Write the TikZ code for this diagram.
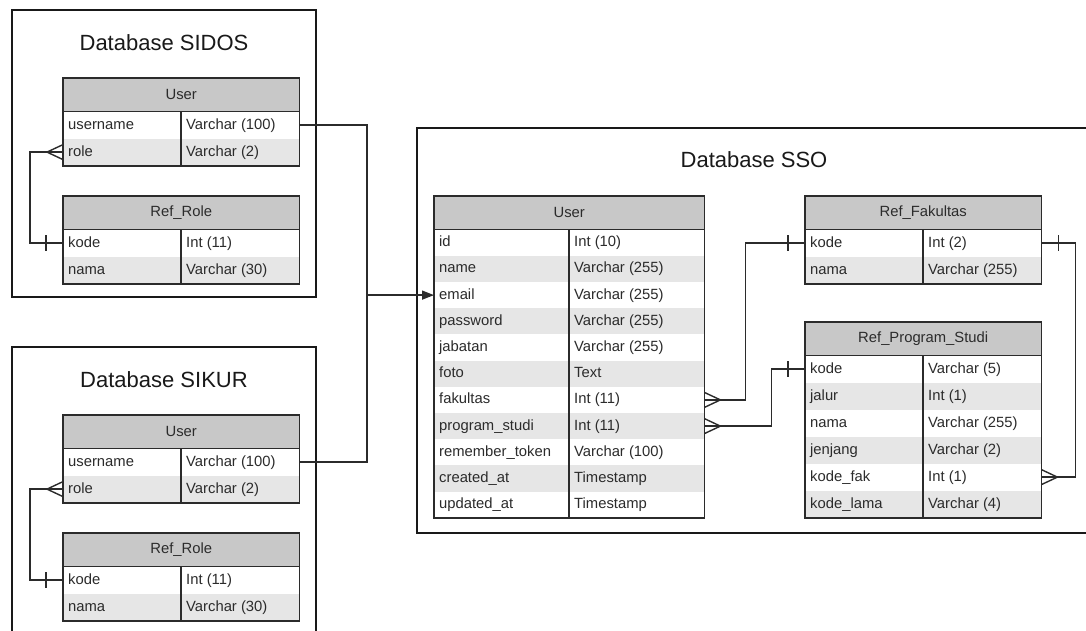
\documentclass[tikz,border=0pt]{standalone}
\usepackage{fontspec}
\setmainfont{Liberation Sans}
\usetikzlibrary{arrows.meta,calc}
\definecolor{hdrgray}{HTML}{C8C8C8}
\definecolor{rowgray}{HTML}{E6E6E6}
\definecolor{ink}{HTML}{2B2B2B}

\tikzset{
  hdr/.style={rectangle, fill=hdrgray, draw=none, inner sep=0pt, text=ink, font=\fontsize{14.8}{17}\selectfont},
  rowbox/.style={rectangle, draw=none, inner sep=0pt},
  cell/.style={anchor=west, inner sep=0pt, text height=10.6pt, text depth=2.6pt, text=ink,
    font=\fontsize{14.8}{17}\selectfont},
  tborder/.style={draw=ink, line width=1.4pt},
  dbframe/.style={draw=black!90, line width=1.8pt},
  conn/.style={draw=ink, line width=1.4pt},
  dbtitle/.style={font=\fontsize{22}{26}\selectfont, text=black!90},
}

% one entity table: #1 name, #2 left x, #3 top y, #4 width, #5 first column width,
% #6 row height, #7 title, #8 rows as field/type
\newcommand{\erdtable}[8]{%
  \node[hdr, minimum width=#4pt, minimum height=33pt, anchor=north west] (#1-h) at (#2,#3) {#7};
  \foreach \fld/\typ [count=\i] in {#8} {
    \ifodd\i \def\rowfill{white}\else\def\rowfill{rowgray}\fi
    \node[rowbox, fill=\rowfill, minimum width=#4pt, minimum height=#6pt, anchor=north west]
      (#1-\i) at ($(#1-h.south west)+(0,{(\i-1)*#6})$) {};
    \node[cell] (#1-\i-f) at ([xshift=5pt]#1-\i.west) {\fld};
    \node[cell] (#1-\i-t) at ([xshift=#5pt+5pt]#1-\i.west) {\typ};
    \xdef\erdlast{\i}
  }
  \draw[tborder] (#1-h.south west) -- (#1-h.south east);
  \draw[tborder] ([xshift=#5pt]#1-h.south west) -- ([xshift=#5pt]#1-\erdlast.south west);
  \draw[tborder] (#1-h.north west) rectangle (#1-\erdlast.south east);
}

% "many" end: #1 point on a table edge, #2 side (1 = right, -1 = left)
\newcommand{\crowfoot}[2]{%
  \draw[conn] ([yshift=7.5pt]#1) -- ([xshift=#2*16pt]#1) -- ([yshift=-7.5pt]#1);}
% "one" end
\newcommand{\onebar}[2]{%
  \draw[conn] ([xshift=#2*17pt,yshift=8pt]#1) -- ([xshift=#2*17pt,yshift=-8pt]#1);}

\begin{document}
\begin{tikzpicture}[x=1pt, y=-1pt]
\useasboundingbox (0,0) rectangle (1086,630);
\clip (0,0) rectangle (1086,630);
\fill[white] (0,0) rectangle (1086,630);

% database frames
\draw[dbframe] (12,10) rectangle (316,297);
\draw[dbframe] (12,640) -- (12,347) -- (316,347) -- (316,640);
\draw[dbframe] (1100,128) -- (417,128) -- (417,533) -- (1100,533);

\node[dbtitle] (tsidos) at (164,43) {Database SIDOS};
\node[dbtitle] (tsikur) at (164,380) {Database SIKUR};
\node[dbtitle] (tsso) at (754,160) {Database SSO};

% SIDOS
\erdtable{sdU}{63}{78}{236}{118}{27}{User}{username/Varchar (100), role/Varchar (2)}
\erdtable{sdR}{63}{196}{236}{118}{27}{Ref\_Role}{kode/Int (11), nama/Varchar (30)}

% SIKUR
\erdtable{kuU}{63}{415}{236}{118}{27}{User}{username/Varchar (100), role/Varchar (2)}
\erdtable{kuR}{63}{533}{236}{118}{27}{Ref\_Role}{kode/Int (11), nama/Varchar (30)}

% SSO
\erdtable{ssU}{434}{196}{270}{135}{26.2}{User}{id/Int (10), name/Varchar (255), email/Varchar (255),
  password/Varchar (255), jabatan/Varchar (255), foto/Text, fakultas/Int (11), program\_studi/Int (11),
  remember\_token/Varchar (100), created\_at/Timestamp, updated\_at/Timestamp}
\erdtable{rf}{805}{196}{236}{118}{27}{Ref\_Fakultas}{kode/Int (2), nama/Varchar (255)}
\erdtable{rps}{805}{322}{236}{118}{27}{Ref\_Program\_Studi}{kode/Varchar (5), jalur/Int (1),
  nama/Varchar (255), jenjang/Varchar (2), kode\_fak/Int (1), kode\_lama/Varchar (4)}

% role -> Ref_Role
\draw[conn] (sdU-2.west) -- ++(-33,0) |- (sdR-1.west);
\crowfoot{sdU-2.west}{-1}
\onebar{sdR-1.west}{-1}
\draw[conn] (kuU-2.west) -- ++(-33,0) |- (kuR-1.west);
\crowfoot{kuU-2.west}{-1}
\onebar{kuR-1.west}{-1}

% usernames feed the SSO email
\path (ssU-3.west) ++(-67,0) coordinate (join);
\draw[conn] (sdU-1.east) -| (join);
\draw[conn] (kuU-1.east) -| (join);
\draw[conn, -{Triangle[length=12pt, width=9pt]}] (join) -- (ssU-3.west);

% SSO relations
\draw[conn] (ssU-7.east) -- ++(41,0) |- (rf-1.west);
\crowfoot{ssU-7.east}{1}
\onebar{rf-1.west}{-1}
\draw[conn] (ssU-8.east) -- ++(67,0) |- (rps-1.west);
\crowfoot{ssU-8.east}{1}
\onebar{rps-1.west}{-1}
\draw[conn] (rf-1.east) -- ++(34,0) |- (rps-5.east);
\onebar{rf-1.east}{1}
\crowfoot{rps-5.east}{1}
\end{tikzpicture}
\end{document}
